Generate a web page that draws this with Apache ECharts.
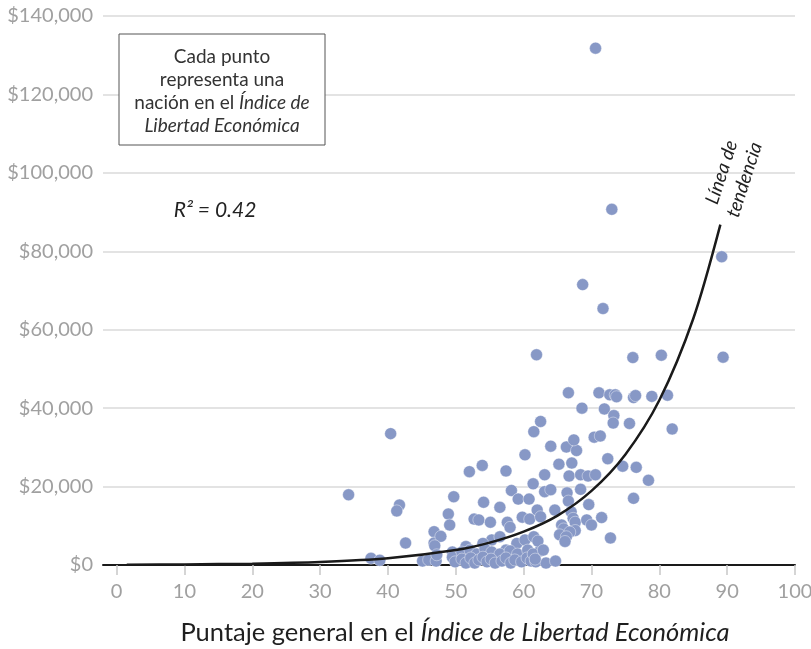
<!DOCTYPE html>
<html>
<head>
<meta charset="utf-8">
<script src="https://cdn.jsdelivr.net/npm/echarts@6/dist/echarts.min.js"></script>
<style>
  html, body { margin: 0; padding: 0; background: #fff; }
  #chart { width: 811px; height: 649px; }
</style>
</head>
<body>
<div id="chart"></div>
<script>
// Overall score in the Index of Economic Freedom (x) and GDP per capita (y)
const scores = [
  34.2, 40.4, 37.5, 38.8, 41.7, 41.3, 42.6, 45.1, 46.0, 47.1,
  46.8, 46.8, 47.8, 46.9, 48.9, 49.1, 49.7, 49.5, 49.5, 52.0,
  53.9, 57.4, 58.2, 60.2, 61.4, 61.5, 62.5, 64.0, 52.7, 53.4,
  54.1, 55.1, 56.5, 59.2, 60.8, 57.6, 58.0, 59.8, 60.9, 62.0,
  51.5, 55.3, 54.0, 56.5, 57.4, 59.0, 60.2, 61.5, 50.9, 52.1,
  53.1, 54.3, 55.3, 56.5, 58.0, 59.1, 60.6, 62.4, 49.9, 50.9,
  51.5, 52.2, 52.8, 53.4, 54.0, 54.6, 55.2, 55.8, 56.8, 57.4,
  58.1, 58.7, 59.7, 60.5, 61.1, 61.8, 63.3, 64.7, 61.4, 61.7,
  66.3, 67.8, 67.4, 70.4, 71.3, 66.6, 68.6, 71.1, 72.7, 73.5,
  73.7, 71.9, 73.3, 73.2, 75.6, 76.2, 76.5, 78.9, 81.2, 81.9,
  76.1, 80.3, 89.4, 89.2, 70.6, 73.0, 68.7, 71.7, 61.9, 65.2,
  67.1, 72.4, 74.6, 76.6, 78.4, 76.2, 63.1, 66.7, 68.4, 69.5,
  70.6, 63.1, 64.0, 66.4, 68.4, 66.6, 69.6, 64.6, 67.0, 62.5,
  71.5, 67.3, 67.6, 69.3, 70.0, 65.6, 65.9, 67.6, 66.8, 65.3,
  66.3, 66.1, 72.8, 62.1, 62.9, 47.2
];
const gdpPerCapita = [
  17900, 33500, 1700, 1200, 15300, 13800, 5600, 1000, 1300, 1000,
  8500, 5600, 7300, 4900, 13000, 10200, 17400, 3300, 2000, 23800,
  25400, 24000, 19000, 28100, 20700, 34000, 36600, 30300, 11700, 11500,
  16000, 10900, 14700, 16800, 16800, 10900, 9600, 12200, 11700, 14000,
  4700, 6400, 5500, 7200, 3800, 5500, 6400, 7200, 3300, 3800,
  2800, 4100, 3300, 2800, 3600, 2800, 3800, 3600, 800, 1500,
  500, 1800, 500, 1300, 2000, 800, 1500, 500, 1000, 1800,
  500, 1300, 800, 1800, 1000, 800, 500, 1000, 2800, 1500,
  30100, 29200, 31900, 32600, 32900, 43900, 40000, 43900, 43400, 43400,
  42900, 39800, 38100, 36200, 36100, 42700, 43200, 43000, 43300, 34700,
  52900, 53500, 53000, 78600, 131800, 90700, 71500, 65400, 53600, 25700,
  26000, 27100, 25200, 24900, 21600, 17000, 23000, 22700, 23000, 22700,
  23000, 18700, 19200, 18400, 19300, 16300, 15400, 14000, 13600, 12300,
  12100, 11900, 10900, 11500, 10200, 10200, 9200, 8800, 8400, 7700,
  7200, 6000, 6900, 6100, 3800, 2600
];
// Trend line
const trendScores = [1.5, 10, 20, 30, 40, 50, 55, 60, 65, 70, 75, 80, 85, 89];
const trendValues = [77, 150, 340, 760, 1700, 3800, 5700, 8500, 12600, 18900, 28200, 42000, 62800, 86800];
// Tick labels
const xTicks = [0, 10, 20, 30, 40, 50, 60, 70, 80, 90, 100];
const yTicks = [0, 20000, 40000, 60000, 80000, 100000, 120000, 140000];

const FONT = 'Lato';
const points = scores.map((s, i) => [s, gdpPerCapita[i]]);
const trend = trendScores.map((s, i) => [s, trendValues[i]]);

const chart = echarts.init(document.getElementById('chart'), null, { renderer: 'canvas' });
chart.setOption({
  animation: false,
  backgroundColor: '#fff',
  grid: { left: 103, right: 16, top: 16, bottom: 84, containLabel: false, outerBoundsMode: 'none' },
  xAxis: {
    type: 'value',
    min: -2,
    max: 100,
    splitLine: { show: false },
    axisLine: { show: true, onZero: false, lineStyle: { color: '#1a1a1a', width: 2 } },
    axisTick: { show: true, length: 10, customValues: xTicks, lineStyle: { color: '#c8c8c8', width: 1.5 } },
    axisLabel: { customValues: xTicks, color: '#a0a0a0', fontFamily: FONT, fontSize: 20, margin: 17 },
    name: '{n|Puntaje general en el }{i|Índice de Libertad Económica}',
    nameLocation: 'middle',
    nameGap: 55,
    nameTextStyle: {
      padding: [0, 0, 0, 12],
      rich: {
        n: { fontFamily: FONT, fontSize: 25.5, color: '#1f1f1f' },
        i: { fontFamily: FONT, fontSize: 25.5, color: '#1f1f1f', fontStyle: 'italic' }
      }
    }
  },
  yAxis: {
    type: 'value',
    min: yTicks[0],
    max: yTicks[yTicks.length - 1],
    interval: 20000,
    axisLine: { show: false },
    axisTick: { show: false },
    splitLine: { show: true, lineStyle: { color: '#dadada', width: 1.5 } },
    axisLabel: {
      color: '#a0a0a0', fontFamily: FONT, fontSize: 20, margin: 10,
      formatter: v => '$' + v.toLocaleString('en-US')
    }
  },
  series: [
    {
      type: 'scatter',
      data: points,
      symbolSize: 12,
      itemStyle: { color: '#8798c6', opacity: 1, borderColor: '#ffffff', borderWidth: 0.4 },
      z: 2
    },
    {
      type: 'line',
      data: trend,
      smooth: 0.3,
      showSymbol: false,
      lineStyle: { color: '#1a1a1a', width: 2.5 },
      z: 3
    }
  ],
  graphic: [
    {
      type: 'rect', z: 100,
      shape: { x: 119, y: 34, width: 206, height: 111 },
      style: { fill: '#ffffff', stroke: '#555555', lineWidth: 1 }
    },
    {
      type: 'text', z: 101, x: 222, y: 91,
      style: {
        text: 'Cada punto\nrepresenta una\nnación en el {i|Índice de}\n{i|Libertad Económica}',
        font: '19px Lato', fill: '#333333', align: 'center', verticalAlign: 'middle', lineHeight: 23,
        rich: { i: { fontFamily: FONT, fontSize: 19, fontStyle: 'italic', fill: '#333333', lineHeight: 23 } }
      }
    },
    {
      type: 'text', z: 101, x: 215, y: 210,
      style: { text: 'R² = 0.42', font: 'italic 21px Lato', fill: '#222222', align: 'center', verticalAlign: 'middle' }
    },
    {
      type: 'text', z: 101, x: 733, y: 176, rotation: 72 * Math.PI / 180,
      style: {
        text: 'Línea de\ntendencia', font: 'italic 19px Lato', fill: '#222222',
        align: 'center', verticalAlign: 'middle', lineHeight: 24
      }
    }
  ]
});
</script>
</body>
</html>
